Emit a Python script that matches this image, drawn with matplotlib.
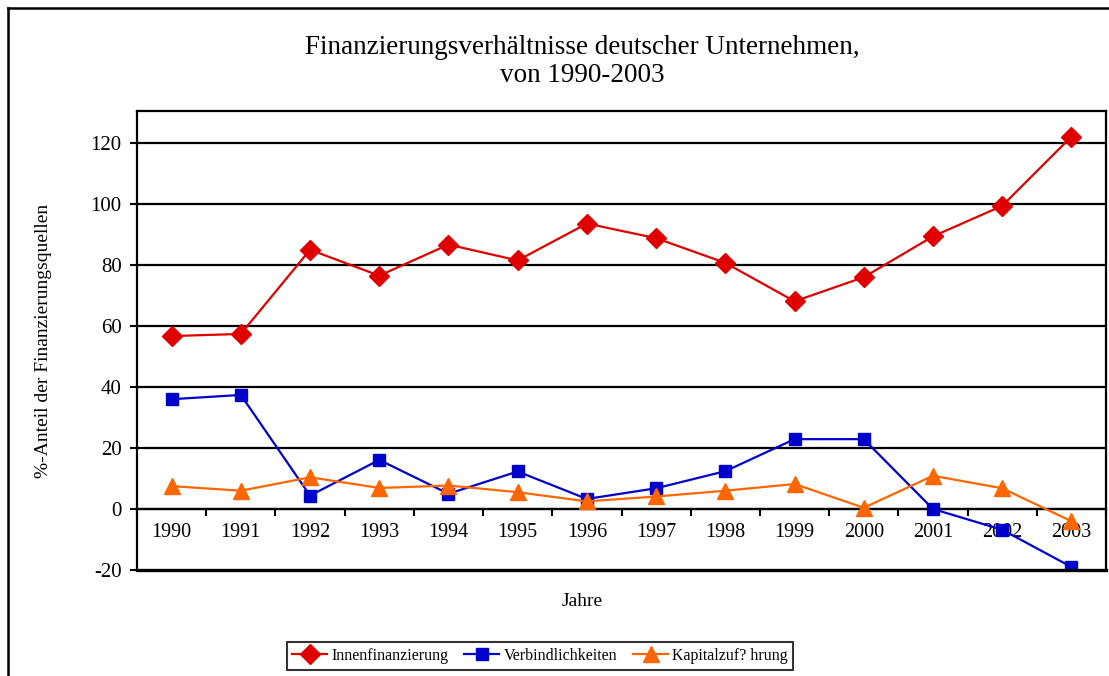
import matplotlib
matplotlib.use("Agg")
import matplotlib.pyplot as plt
from matplotlib.lines import Line2D

plt.rcParams['font.family'] = ['Liberation Serif', 'DejaVu Serif']

years = ["1990", "1991", "1992", "1993", "1994", "1995", "1996",
         "1997", "1998", "1999", "2000", "2001", "2002", "2003"]
innen = [56.7, 57.4, 85.0, 76.5, 86.7, 81.5, 93.6, 88.8, 80.7, 68.1, 76.0, 89.4, 99.4, 122.1]
verb = [36.0, 37.4, 4.4, 16.1, 5.0, 12.3, 3.3, 6.8, 12.4, 22.9, 22.9, 0.0, -6.8, -19.0]
kapital = [7.5, 6.0, 10.4, 6.9, 7.7, 5.5, 2.5, 4.1, 6.0, 8.2, 0.4, 10.9, 6.8, -4.0]
labels = ["Innenfinanzierung", "Verbindlichkeiten", "Kapitalzuf? hrung"]
yticks = [-20, 0, 20, 40, 60, 80, 100, 120]

fig = plt.figure(figsize=(11.09, 6.76), dpi=100)
ax = fig.add_axes([137/1109, 1-570/676, 969/1109, 459/676])

x = list(range(len(years)))
ax.plot(x, innen, color='#E00000', lw=1.6, marker='D', ms=10, mec='#E00000', label=labels[0], zorder=5)
ax.plot(x, verb, color='#0000CC', lw=1.6, marker='s', ms=8, mec='#0000CC', label=labels[1], zorder=5)
ax.plot(x, kapital, color='#FF6600', lw=1.6, marker='^', ms=11, mec='#FF6600', label=labels[2], zorder=5)

ax.set_xlim(-0.5, len(years) - 0.5)
ax.set_ylim(-20, 130.5)

# y axis
ax.set_yticks(yticks)
ax.set_yticklabels([str(v) for v in yticks], fontsize=15)
ax.tick_params(axis='y', direction='out', length=5, width=1.5, pad=6)
for v in yticks[1:]:
    ax.axhline(v, color='black', lw=1.6, zorder=1)

# x axis at 0 with ticks between categories
ax.spines['bottom'].set_position(('data', 0))
ax.spines['bottom'].set_linewidth(1.6)
ax.set_xticks([i + 0.5 for i in range(len(years) - 1)] + [-0.5, len(years) - 0.5])
ax.set_xticklabels([])
ax.tick_params(axis='x', which='major', direction='out', length=5, width=1.5)
ax.set_xticks(x, minor=True)
ax.set_xticklabels(years, minor=True, fontsize=14.5)
ax.tick_params(axis='x', which='minor', length=0, pad=10)

for s in ['left', 'top', 'right']:
    ax.spines[s].set_linewidth(1.6)
ax.axhline(-20, color='black', lw=2.4, clip_on=False, zorder=6)

ax.set_ylabel("%-Anteil der Finanzierungsquellen", fontsize=14)
ax.yaxis.set_label_coords((52 - 137) / 969, 0.5)
fig.text(582/1109, 1-601/676, "Jahre", ha='center', va='center', fontsize=14)

fig.text(582/1109, 1-47/676, "Finanzierungsverhältnisse deutscher Unternehmen,",
         ha='center', va='center', fontsize=19.5)
fig.text(582/1109, 1-76/676, "von 1990-2003", ha='center', va='center', fontsize=19.5)

leg = fig.legend(loc='center', bbox_to_anchor=(540/1109, 1-656/676), ncol=3,
                 fontsize=11.5, frameon=True, fancybox=False, edgecolor='black',
                 handlelength=2.2, handletextpad=0.25, columnspacing=1.0,
                 borderpad=0.35, borderaxespad=0)
leg.get_frame().set_linewidth(1.5)

# outer chart border (partially visible)
fig.add_artist(Line2D([8/1109, 8/1109], [0, 1-8/676], transform=fig.transFigure, color='black', lw=1.8))
fig.add_artist(Line2D([8/1109, 1], [1-8/676, 1-8/676], transform=fig.transFigure, color='black', lw=1.8))

fig.savefig("out.png", dpi=100)
